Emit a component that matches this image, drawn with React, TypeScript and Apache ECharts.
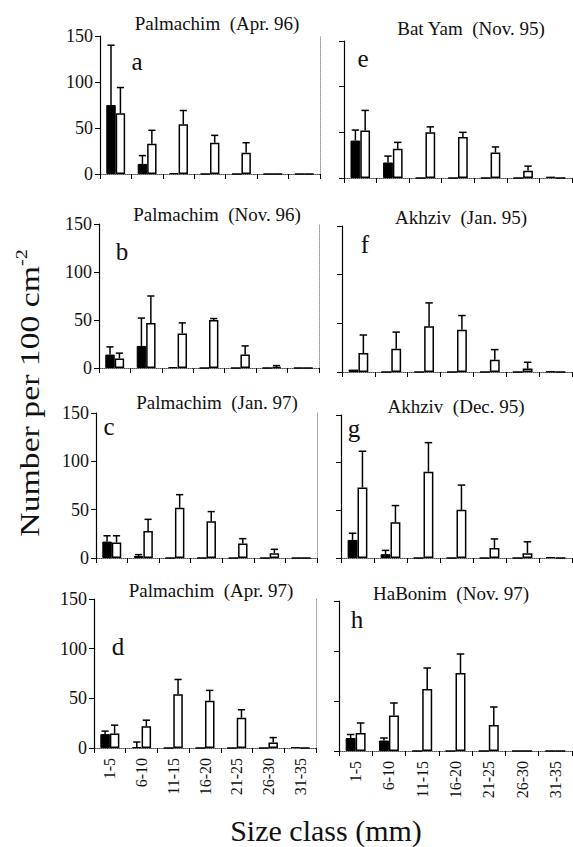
import React, { useEffect, useRef } from "react";
import * as echarts from "echarts";

const categories = ["1-5", "6-10", "11-15", "16-20", "21-25", "26-30", "31-35"];
const yMin = 0;
const yMax = 150;
const yStep = 50;

// Panel a: Palmachim (Apr. 96)
const aBlack = [75, 11, 1, 0, 0, 0, 0];
const aBlackSD = [65, 9, 0, 0, 0, 0, 0];
const aWhite = [66, 33, 54, 34, 23, 0, 0];
const aWhiteSD = [28, 14.5, 15, 8, 11, 0, 0];
// Panel b: Palmachim (Nov. 96)
const bBlack = [14, 23, 1, 0, 0, 0, 0];
const bBlackSD = [8, 29, 0, 0, 0, 0, 0];
const bWhite = [10, 47, 36, 50, 14, 1, 0];
const bWhiteSD = [5.5, 28, 11, 1.5, 9, 1.5, 0];
// Panel c: Palmachim (Jan. 97)
const cBlack = [17, 2, 0, 0, 0, 0, 0];
const cBlackSD = [6, 1.5, 0, 0, 0, 0, 0];
const cWhite = [16, 28, 52, 38, 15, 5, 0];
const cWhiteSD = [7, 12, 13.5, 10, 5, 4, 0];
// Panel d: Palmachim (Apr. 97)
const dBlack = [14, 1, 0, 0, 0, 0, 1];
const dBlackSD = [3, 5, 0, 0, 0, 0, 0];
const dWhite = [14.5, 22, 54, 47.5, 30.5, 5.5, 0];
const dWhiteSD = [8.5, 6, 15, 10.5, 8, 5, 0];
// Panel e: Bat Yam (Nov. 95)
const eBlack = [41, 17, 0, 0, 0, 0, 1.5];
const eBlackSD = [11.5, 7, 0, 0, 0, 0, 0];
const eWhite = [52, 32, 50, 45, 28, 8, 0];
const eWhiteSD = [22, 7, 6, 5, 6, 5, 0];
// Panel f: Akhziv (Jan. 95)
const fBlack = [2.5, 0, 0, 0, 0, 0, 0.5];
const fBlackSD = [0, 0, 0, 0, 0, 0, 0];
const fWhite = [19.5, 24, 47, 43.5, 12.5, 3.5, 0];
const fWhiteSD = [18.5, 17, 24, 14.5, 10.5, 6.5, 0];
// Panel g: Akhziv (Dec. 95)
const gBlack = [19, 4, 0, 0, 0, 0, 1];
const gBlackSD = [7, 4, 0, 0, 0, 0, 0];
const gWhite = [74, 37.5, 90.5, 50.5, 10.5, 5, 0];
const gWhiteSD = [38, 17.5, 30.5, 26, 9.5, 12, 0];
// Panel h: HaBonim (Nov. 97)
const hBlack = [13, 10.5, 0, 0, 0, 0, 0];
const hBlackSD = [3.5, 2.5, 0, 0, 0, 0, 0];
const hWhite = [18, 35.5, 62, 78, 26, 0, 0];
const hWhiteSD = [10, 12.5, 21, 19, 18, 0, 0];

const panelTitles = [
  "Palmachim  (Apr. 96)",
  "Palmachim  (Nov. 96)",
  "Palmachim  (Jan. 97)",
  "Palmachim  (Apr. 97)",
  "Bat Yam  (Nov. 95)",
  "Akhziv  (Jan. 95)",
  "Akhziv  (Dec. 95)",
  "HaBonim  (Nov. 97)",
];
const panelLetters = ["a", "b", "c", "d", "e", "f", "g", "h"];
const yAxisTitle = "Number per 100 cm";
const yAxisTitleSup = "-2";
const xAxisTitle = "Size class (mm)";

const panelData = [
  [aBlack, aBlackSD, aWhite, aWhiteSD],
  [bBlack, bBlackSD, bWhite, bWhiteSD],
  [cBlack, cBlackSD, cWhite, cWhiteSD],
  [dBlack, dBlackSD, dWhite, dWhiteSD],
  [eBlack, eBlackSD, eWhite, eWhiteSD],
  [fBlack, fBlackSD, fWhite, fWhiteSD],
  [gBlack, gBlackSD, gWhite, gWhiteSD],
  [hBlack, hBlackSD, hWhite, hWhiteSD],
];

// layout: [left, top, width, height], column, isBottomRow
const layouts = [
  { box: [100, 36, 220, 138], col: 0, bottom: false, title: [217, 23], letter: [137, 70] },
  { box: [99, 224, 220, 144], col: 0, bottom: false, title: [217, 214], letter: [122, 260] },
  { box: [96, 413, 221, 145], col: 0, bottom: false, title: [217, 402], letter: [109, 435] },
  { box: [94, 599, 222, 149], col: 0, bottom: true, title: [211, 590], letter: [118, 655] },
  { box: [344, 41, 228, 137], col: 1, bottom: false, title: [471, 28], letter: [363, 67] },
  { box: [342, 226, 230, 146], col: 1, bottom: false, title: [461, 217], letter: [365, 253] },
  { box: [341, 415, 231, 143], col: 1, bottom: false, title: [456, 406], letter: [354, 437] },
  { box: [339, 601, 233, 150], col: 1, bottom: true, title: [451, 593], letter: [357, 628] },
];

const FONT = "Liberation Serif";
const BAR_FRAC = 0.3;

function buildOption() {
  const grid: any[] = [];
  const xAxis: any[] = [];
  const yAxis: any[] = [];
  const series: any[] = [];
  const graphic: any[] = [];

  layouts.forEach((L, i) => {
    const [left, top, width, height] = L.box;
    grid.push({ left, top, width, height, containLabel: false });
    xAxis.push({
      gridIndex: i,
      type: "category",
      data: categories,
      position: "bottom",
      axisLine: { show: true, lineStyle: { color: "#000", width: 1.2 } },
      axisTick: { show: true, length: 5, inside: false, lineStyle: { color: "#000", width: 1 } },
      axisLabel: {
        show: L.bottom,
        rotate: 90,
        interval: 0,
        margin: 10,
        fontSize: 16,
        fontFamily: FONT,
        color: "#111",
      },
      splitLine: { show: false },
    });
    xAxis.push({
      gridIndex: i,
      type: "category",
      data: categories,
      position: "top",
      axisLine: { show: true, lineStyle: { color: "#888", width: 1, type: "dotted" } },
      axisTick: { show: false },
      axisLabel: { show: false },
      splitLine: { show: false },
    });
    yAxis.push({
      gridIndex: i,
      type: "value",
      min: yMin,
      max: yMax,
      interval: yStep,
      position: "left",
      axisLine: { show: true, lineStyle: { color: "#000", width: 1.2 } },
      axisTick: { show: true, length: 5, inside: false, lineStyle: { color: "#000", width: 1 } },
      axisLabel: {
        show: L.col === 0,
        margin: 7,
        fontSize: 18,
        fontFamily: FONT,
        color: "#111",
      },
      splitLine: { show: false },
    });
    yAxis.push({
      gridIndex: i,
      type: "value",
      min: yMin,
      max: yMax,
      interval: yStep,
      position: "right",
      axisLine: { show: L.col === 0, lineStyle: { color: "#999", width: 1, type: "dotted" } },
      axisTick: { show: false },
      axisLabel: { show: false },
      splitLine: { show: false },
    });

    const [black, blackSD, white, whiteSD] = panelData[i];
    series.push({
      type: "bar",
      xAxisIndex: 2 * i,
      yAxisIndex: 2 * i,
      data: black,
      barWidth: BAR_FRAC * 100 + "%",
      barGap: "0%",
      itemStyle: { color: "#000", borderColor: "#000", borderWidth: 1 },
      silent: true,
    });
    series.push({
      type: "bar",
      xAxisIndex: 2 * i,
      yAxisIndex: 2 * i,
      data: white,
      barWidth: BAR_FRAC * 100 + "%",
      barGap: "0%",
      itemStyle: { color: "#fff", borderColor: "#000", borderWidth: 1.5 },
      silent: true,
    });
    const errData: any[] = [];
    black.forEach((v, k) => {
      if (blackSD[k] > 0) errData.push([k, v, v + blackSD[k], 0]);
    });
    white.forEach((v, k) => {
      if (whiteSD[k] > 0) errData.push([k, v, v + whiteSD[k], 1]);
    });
    series.push({
      type: "custom",
      xAxisIndex: 2 * i,
      yAxisIndex: 2 * i,
      z: 5,
      silent: true,
      data: errData,
      renderItem: (params: any, api: any) => {
        const ci = api.value(0);
        const base = api.coord([ci, api.value(1)]);
        const tp = api.coord([ci, api.value(2)]);
        const bw = api.size([1, 0])[0] * BAR_FRAC;
        const x = base[0] + (api.value(3) === 0 ? -bw / 2 : bw / 2);
        const cap = bw * 0.38;
        const st = { stroke: "#000", lineWidth: 1.5 };
        return {
          type: "group",
          children: [
            { type: "line", shape: { x1: x, y1: base[1], x2: x, y2: tp[1] }, style: st },
            { type: "line", shape: { x1: x - cap, y1: tp[1], x2: x + cap, y2: tp[1] }, style: st },
          ],
        };
      },
    });

    graphic.push({
      type: "text",
      x: L.title[0],
      y: L.title[1],
      style: {
        text: panelTitles[i],
        fontSize: 19,
        fontFamily: FONT,
        fill: "#111",
        textAlign: "center",
        textVerticalAlign: "middle",
      },
    });
    graphic.push({
      type: "text",
      x: L.letter[0],
      y: L.letter[1] + 4,
      style: {
        text: panelLetters[i],
        fontSize: 25,
        fontFamily: FONT,
        fill: "#111",
        textAlign: "center",
        textVerticalAlign: "bottom",
      },
    });
  });

  graphic.push({
    type: "text",
    x: 29,
    y: 393,
    rotation: Math.PI / 2,
    scaleX: 1.25,
    scaleY: 1,
    style: {
      text: `{m|${yAxisTitle}}{s|${yAxisTitleSup}}`,
      textAlign: "center",
      textVerticalAlign: "middle",
      fill: "#111",
      rich: {
        m: { fontSize: 27, fontFamily: FONT, fill: "#111", lineHeight: 30, verticalAlign: "bottom" },
        s: { fontSize: 16, fontFamily: FONT, fill: "#111", lineHeight: 30, verticalAlign: "top" },
      },
    },
  });
  graphic.push({
    type: "text",
    x: 326,
    y: 830,
    style: {
      text: xAxisTitle,
      fontSize: 30,
      fontFamily: FONT,
      fill: "#111",
      textAlign: "center",
      textVerticalAlign: "middle",
    },
  });

  return {
    animation: false,
    backgroundColor: "#fff",
    grid,
    xAxis,
    yAxis,
    series,
    graphic,
  };
}

export default function App() {
  const ref = useRef<HTMLDivElement>(null);
  useEffect(() => {
    if (!ref.current) return;
    const chart = echarts.init(ref.current, undefined, { renderer: "svg" });
    chart.setOption(buildOption() as any);
    return () => chart.dispose();
  }, []);
  return (
    <div
      ref={ref}
      style={{ position: "fixed", left: 0, top: 0, width: 573, height: 847, background: "#fff" }}
    />
  );
}
